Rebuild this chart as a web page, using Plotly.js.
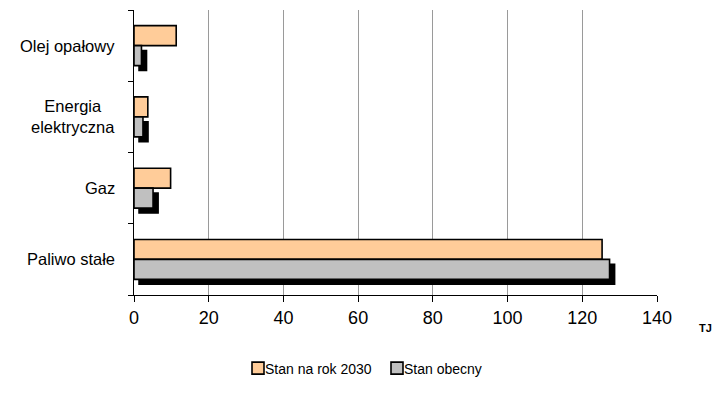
<!DOCTYPE html>
<html>
<head>
<meta charset="utf-8">
<script src="https://cdn.plot.ly/plotly-3.0.1.min.js"></script>
<style>
  html, body { margin: 0; padding: 0; background: #ffffff; }
  #chart { width: 720px; height: 395px; }
</style>
</head>
<body>
<div id="chart"></div>
<script>
// Fuel use by source, in TJ (bottom to top)
const categories = ['Paliwo stałe', 'Gaz', 'Energia elektryczna', 'Olej opałowy'];
const categoryLabels = ['Paliwo stałe', 'Gaz', 'Energia<br>elektryczna', 'Olej opałowy'];
const values2030 = [125.3, 9.8, 3.7, 11.3];
const valuesCurrent = [127.3, 5.1, 2.4, 2.0];
const seriesNames = ['Stan na rok 2030', 'Stan obecny'];
const xTicks = [0, 20, 40, 60, 80, 100, 120, 140];
const unitLabel = 'TJ';

const FONT = 'Liberation Sans, Arial, Helvetica, sans-serif';
const BAR_W = 0.28;

const trace2030 = {
  type: 'bar', orientation: 'h',
  name: seriesNames[0],
  y: categories, x: values2030,
  width: BAR_W, offset: 0,
  marker: { color: '#FFCC99', line: { color: '#000000', width: 1.6 } },
  hoverinfo: 'skip'
};

// drop shadow under the current-state bars
const traceShadow = {
  type: 'bar', orientation: 'h',
  name: 'shadow', showlegend: false,
  y: categories, x: valuesCurrent,
  base: 1.35,
  width: BAR_W, offset: -BAR_W - 0.07,
  marker: { color: '#000000', line: { color: '#000000', width: 1.6 } },
  hoverinfo: 'skip'
};

const traceCurrent = {
  type: 'bar', orientation: 'h',
  name: seriesNames[1],
  y: categories, x: valuesCurrent,
  width: BAR_W, offset: -BAR_W,
  marker: { color: '#C0C0C0', line: { color: '#000000', width: 1.6 } },
  hoverinfo: 'skip'
};

const annotations = categories.map((c, i) => ({
  xref: 'paper', yref: 'y',
  x: -0.033, y: c,
  xanchor: 'right', yanchor: 'middle', align: 'center',
  text: categoryLabels[i], showarrow: false,
  font: { family: FONT, size: 16.5, color: '#000000' }
}));
annotations.push({
  xref: 'paper', yref: 'paper',
  x: 1.092, y: -0.115,
  xanchor: 'center', yanchor: 'middle',
  text: '<b>' + unitLabel + '</b>', showarrow: false,
  font: { family: FONT, size: 11, color: '#000000' }
});

const layout = {
  width: 720, height: 395,
  margin: { l: 134, r: 63, t: 10, b: 87, pad: 0 },
  paper_bgcolor: '#ffffff', plot_bgcolor: '#ffffff',
  barmode: 'overlay',
  showlegend: true,
  legend: {
    orientation: 'h',
    x: 0.174, xanchor: 'left',
    y: -0.258, yanchor: 'middle',
    font: { family: FONT, size: 14, color: '#000000' },
    itemwidth: 30,
    entrywidth: 94, entrywidthmode: 'pixels',
    bgcolor: 'rgba(0,0,0,0)'
  },
  xaxis: {
    range: [0, 140],
    tickvals: xTicks,
    ticktext: xTicks.map(String),
    showgrid: true, gridcolor: '#9a9a9a', gridwidth: 1,
    zeroline: false,
    showline: true, linecolor: '#000000', linewidth: 1,
    ticks: 'outside', ticklen: 6, tickcolor: '#000000', tickwidth: 1,
    tickfont: { family: FONT, size: 18, color: '#000000' },
    fixedrange: true
  },
  yaxis: {
    type: 'category',
    categoryorder: 'array', categoryarray: categories,
    range: [-0.5, 3.5],
    showgrid: false, zeroline: false,
    showline: true, linecolor: '#000000', linewidth: 1,
    ticks: 'outside', tickson: 'boundaries', ticklen: 5,
    tickcolor: '#000000', tickwidth: 1,
    showticklabels: false,
    fixedrange: true
  },
  annotations: annotations
};

Plotly.newPlot('chart', [trace2030, traceShadow, traceCurrent], layout,
  { displayModeBar: false, staticPlot: true })
  .then(gd => {
    // sit each legend swatch right next to its label
    gd.querySelectorAll('.legend .traces .legendsymbols').forEach(g => {
      g.setAttribute('transform', 'translate(13,0)');
    });
  });
</script>
</body>
</html>
